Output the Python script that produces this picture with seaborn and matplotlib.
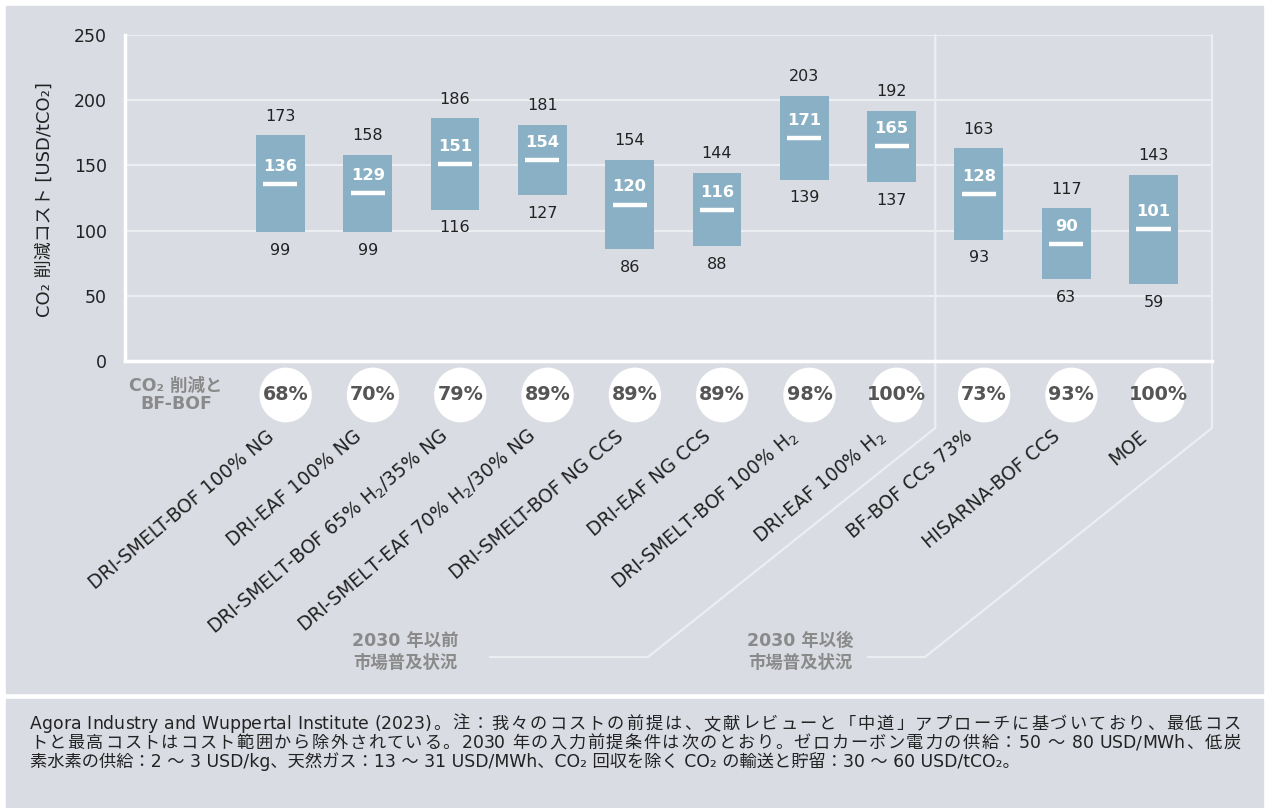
import numpy as np
import pandas as pd
import matplotlib
matplotlib.use("Agg")
import matplotlib.pyplot as plt
import seaborn as sns
from matplotlib.patches import Rectangle, Ellipse
from matplotlib.font_manager import FontProperties

# ---------------- data ----------------
categories = [
    "DRI-SMELT-BOF 100% NG",
    "DRI-EAF 100% NG",
    "DRI-SMELT-BOF 65% H$_2$/35% NG",
    "DRI-SMELT-EAF 70% H$_2$/30% NG",
    "DRI-SMELT-BOF NG CCS",
    "DRI-EAF NG CCS",
    "DRI-SMELT-BOF 100% H$_2$",
    "DRI-EAF 100% H$_2$",
    "BF-BOF CCs 73%",
    "HISARNA-BOF CCS",
    "MOE",
]
low_cost = [99, 99, 116, 127, 86, 88, 139, 137, 93, 63, 59]
high_cost = [173, 158, 186, 181, 154, 144, 203, 192, 163, 117, 143]
mid_cost = [136, 129, 151, 154, 120, 116, 171, 165, 128, 90, 101]
reduction_pct = ["68%", "70%", "79%", "89%", "89%", "89%", "98%", "100%", "73%", "93%", "100%"]
y_ticks = [0, 50, 100, 150, 200, 250]
reduction_title = "CO₂ 削減と\nBF-BOF"
group_labels = ["2030 年以前\n市場普及状況", "2030 年以後\n市場普及状況"]
y_label = "CO₂ 削減コスト [USD/tCO₂]"
footnote_lines = [
    "Agora Industry and Wuppertal Institute (2023)。注：我々のコストの前提は、文献レビューと「中道」アプローチに基づいており、最低コス",
    "トと最高コストはコスト範囲から除外されている。2030 年の入力前提条件は次のとおり。ゼロカーボン電力の供給：50 ～ 80 USD/MWh、低炭",
    "素水素の供給：2 ～ 3 USD/kg、天然ガス：13 ～ 31 USD/MWh、CO₂ 回収を除く CO₂ の輸送と貯留：30 ～ 60 USD/tCO₂。",
]
footnote_justified = [True, True, False]

# ---------------- style ----------------
BG = "#d9dce3"
BAR = "#89b0c4"
DARK = "#222222"
GREY = "#8a8a8a"
PCT = "#555555"
LINE = "#eceef2"
FAM = ["DejaVu Sans", "Noto Sans CJK JP"]

sns.set_theme(style="white")
plt.rcParams["font.family"] = FAM
plt.rcParams["mathtext.fontset"] = "dejavusans"

W, H = 1266, 808
fig = plt.figure(figsize=(W / 100, H / 100), dpi=100, facecolor="white")
fig.patches.append(Rectangle((6 / W, 1 - 693 / H), 1257 / W, 687 / H,
                             transform=fig.transFigure, color=BG, zorder=-10))
fig.patches.append(Rectangle((6 / W, 0), 1257 / W, (H - 699) / H,
                             transform=fig.transFigure, color=BG, zorder=-10))

ax = fig.add_axes([125 / W, 1 - 361 / H, (1212 - 125) / W, (361 - 35) / H])
ax.patch.set_alpha(0)

df = pd.DataFrame({
    "cat": categories,
    "low": low_cost,
    "high": high_cost,
    "mid": mid_cost,
})
df["span"] = df["high"] - df["low"]

sns.barplot(data=df, x="cat", y="span", order=categories, bottom=df["low"].values,
            color=BAR, saturation=1, width=0.56, errorbar=None, linewidth=0,
            ax=ax, zorder=3)

xs = np.arange(len(categories))
ax.hlines(df["mid"], xs - 0.195, xs + 0.195, colors="white", lw=3.2, zorder=4)

for i, r in df.iterrows():
    ax.text(i, r["high"] + 14.8, f"{r['high']}", ha="center", va="center",
            fontsize=11.5, color=DARK)
    ax.text(i, r["low"] - 14, f"{r['low']}", ha="center", va="center",
            fontsize=11.5, color=DARK)
    ax.text(i, r["mid"] + 13.5, f"{r['mid']}", ha="center", va="center",
            fontsize=11.8, color="white", fontweight="bold", zorder=5)

ax.set_xlim(-1.78, 10.67)
ax.set_ylim(0, 250)
ax.set_yticks(y_ticks)
ax.set_xticks([])
ax.set_xlabel("")
ax.set_ylabel("")
ax.tick_params(axis="y", length=0, pad=13, labelsize=12.5, labelcolor=DARK)
ax.grid(axis="y", color=LINE, lw=1.6, zorder=0)
ax.set_axisbelow(True)
for s in ["top", "right"]:
    ax.spines[s].set_visible(False)
for s in ["left", "bottom"]:
    ax.spines[s].set_color("white")
    ax.spines[s].set_linewidth(2.5)
    ax.spines[s].set_zorder(2)

fig.canvas.draw()
inv = ax.transData.inverted()
renderer = fig.canvas.get_renderer()


def P(px, py):
    return inv.transform((px, H - py))


# bracket lines
divider = 7.5
right_edge = ax.get_xlim()[1]
for xv, diag_end, h_end in [(divider, (648, 657), 490), (right_edge, (925, 657), 868)]:
    y_knee = P(0, 428)[1]
    d = P(*diag_end)
    h = P(h_end, diag_end[1])
    ax.plot([xv, xv, d[0], h[0]], [250, y_knee, d[1], h[1]],
            color=LINE, lw=1.6, clip_on=False, zorder=1, solid_joinstyle="miter")

# reduction circles
yc = P(0, 395)[1]
for i, p in enumerate(reduction_pct):
    ax.add_patch(Ellipse((i + 0.06, yc), 0.6, 42, fc="white", ec="none",
                         clip_on=False, zorder=5))
    ax.text(i + 0.06, yc, p, ha="center", va="center", fontsize=13.8,
            fontweight="bold", color=PCT, zorder=6)
ax.text(P(176, 0)[0], yc, reduction_title, ha="center", va="center",
        fontsize=12.5, fontweight="bold", color=GREY, linespacing=1.05)

# category labels
ycat = P(0, 434)[1]
for i, c in enumerate(categories):
    ax.text(i - 0.1, ycat, c, rotation=40, ha="right", va="center",
            rotation_mode="anchor", fontsize=13.5, color=DARK)

# group labels
for gx, g in zip([405, 800], group_labels):
    fig.text(gx / W, 1 - 652 / H, g, ha="center", va="center", fontsize=12.5,
             fontweight="bold", color=GREY, linespacing=1.3)

# y label
fig.text(45 / W, 1 - 200 / H, y_label, rotation=90, ha="center", va="center",
         fontsize=13, color=DARK)

# footnote (first two lines justified; extra space only around CJK glyphs)
FN_SIZE = 12.4
fn_prop = FontProperties(family=FAM, size=FN_SIZE)


def text_w(s):
    t = fig.text(0, 0, s + "|", fontproperties=fn_prop)
    w = t.get_window_extent(renderer).width
    t.remove()
    return w


def is_wide(ch):
    return ord(ch) >= 0x2E80


bar_w = text_w("")
x_left, x_right = 30, 1241
for k, (line, just) in enumerate(zip(footnote_lines, footnote_justified)):
    ypos = 1 - (724 + 19 * k) / H
    if not just:
        fig.text(x_left / W, ypos, line, ha="left", va="center",
                 fontproperties=fn_prop, color=DARK)
        continue
    offsets = [text_w(line[:j]) - bar_w for j in range(len(line))]
    last_w = text_w(line[-1]) - bar_w
    natural = offsets[-1] + last_w
    stretch = [j > 0 and (is_wide(line[j - 1]) or is_wide(line[j]))
               for j in range(len(line))]
    extra = (x_right - x_left - natural) / max(sum(stretch), 1)
    shift = 0.0
    for j, ch in enumerate(line):
        if stretch[j]:
            shift += extra
        if ch == " ":
            continue
        fig.text((x_left + offsets[j] + shift) / W, ypos, ch, ha="left",
                 va="center", fontproperties=fn_prop, color=DARK)

fig.savefig("out.png", dpi=100, facecolor="white")
